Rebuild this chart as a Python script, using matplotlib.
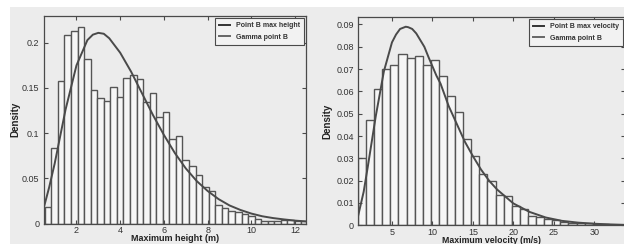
import numpy as np
import matplotlib
matplotlib.use("Agg")
import matplotlib.pyplot as plt
from matplotlib.lines import Line2D
from matplotlib.patches import Rectangle

plt.rcParams['font.family'] = ['Liberation Sans', 'DejaVu Sans']

#########################################################################
# Data
#########################################################################
# Max height histogram (bins of 0.3 m starting at 0.55)
height_bin_start = 0.55
height_bin_width = 0.3
height_density = [0.018, 0.084, 0.158, 0.209, 0.213, 0.218, 0.182, 0.148, 0.139, 0.136,
                  0.151, 0.140, 0.161, 0.164, 0.160, 0.134, 0.144, 0.118, 0.123, 0.093,
                  0.097, 0.070, 0.064, 0.054, 0.040, 0.036, 0.020, 0.017, 0.014, 0.013,
                  0.011, 0.008, 0.0045, 0.0025, 0.003, 0.0025, 0.004, 0.004, 0.003, 0.003]

# Gamma fit for max height
height_curve_x = [0.5, 0.75, 1.0, 1.5, 2.0, 2.5, 2.75, 3.0, 3.25, 3.5, 4.0, 4.5, 5.0, 5.5,
                  6.0, 6.5, 7.0, 7.5, 8.0, 8.5, 9.0, 9.5, 10.0, 10.5, 11.0, 11.5, 12.0, 12.5]
height_curve_y = [0.017, 0.040, 0.066, 0.126, 0.175, 0.203, 0.209, 0.211, 0.210, 0.205,
                  0.189, 0.168, 0.144, 0.120, 0.098, 0.078, 0.061, 0.047, 0.036, 0.027,
                  0.020, 0.015, 0.011, 0.008, 0.006, 0.0045, 0.0032, 0.0023]

# Max velocity histogram (bins of 1 m/s starting at 0.8)
vel_bin_start = 0.8
vel_bin_width = 1.0
vel_density = [0.030, 0.047, 0.061, 0.070, 0.072, 0.077, 0.075, 0.076, 0.072, 0.074,
               0.067, 0.058, 0.051, 0.0385, 0.031, 0.023, 0.020, 0.0136, 0.013, 0.0088,
               0.0072, 0.0042, 0.0036, 0.0028, 0.0024, 0.0016, 0.0012, 0.0010, 0.0009,
               0.0006, 0.0004, 0.0003, 0.0002]

# Gamma fit for max velocity
vel_curve_x = [0.8, 1.5, 2, 3, 4, 5, 5.5, 6, 6.7, 7, 7.5, 8, 8.5, 9, 9.5, 10.5, 11, 12, 13,
               14, 15, 16, 17, 18, 20, 22, 24, 26, 28, 30, 32, 33.8]
vel_curve_y = [0.004, 0.015, 0.026, 0.049, 0.069, 0.082, 0.0855, 0.088, 0.089, 0.0888,
               0.088, 0.086, 0.083, 0.080, 0.0755, 0.067, 0.0635, 0.0535, 0.0455, 0.0375,
               0.031, 0.025, 0.020, 0.016, 0.0098, 0.006, 0.0035, 0.002, 0.0012, 0.0007,
               0.0004, 0.0002]

bg = '#ececec'
dark = '#4a4a4a'

fig = plt.figure(figsize=(6.24, 2.44), dpi=100, facecolor=bg)
# white scan border at top / left
fig.patches.append(Rectangle((0, 1 - 7 / 244), 1, 7 / 244, transform=fig.transFigure,
                             facecolor='white', edgecolor='none', zorder=-1))
fig.patches.append(Rectangle((0, 0), 10 / 624, 1, transform=fig.transFigure,
                             facecolor='white', edgecolor='none', zorder=-1))


def style_axes(ax):
    ax.set_facecolor(bg)
    for s in ax.spines.values():
        s.set_color(dark)
        s.set_linewidth(0.9)
    ax.tick_params(direction='in', top=True, right=True, length=3, width=0.8,
                   color=dark, labelsize=6.5, labelcolor='#333333', pad=3)
    ax.tick_params(axis='x', pad=2)


def draw_panel(ax, start, width, dens, cx, cy, labels):
    edges = start + width * np.arange(len(dens))
    ax.bar(edges, dens, width=width, align='edge', facecolor='#f6f6f6',
           edgecolor='#555555', linewidth=1.0)
    ax.plot(cx, cy, color=dark, linewidth=1.4)
    handles = [Line2D([], [], color='#333333', linewidth=1.4),
               Line2D([], [], color='#666666', linewidth=1.4)]
    leg = ax.legend(handles, labels, loc='upper right', fontsize=5,
                    handlelength=1.6, handletextpad=0.8, borderpad=0.6,
                    labelspacing=0.7, fancybox=False, framealpha=1,
                    borderaxespad=0.3)
    leg.get_frame().set_edgecolor(dark)
    leg.get_frame().set_linewidth(0.8)
    leg.get_frame().set_facecolor('#f2f2f2')
    for t in leg.get_texts():
        t.set_fontweight('bold')
        t.set_color('#333333')


#########################################################################
# Max height
#########################################################################
ax1 = fig.add_axes([0.070, 0.084, 0.4204, 0.8517])
style_axes(ax1)
draw_panel(ax1, height_bin_start, height_bin_width, height_density,
           height_curve_x, height_curve_y, ['Point B max height', 'Gamma point B'])
ax1.set_xlim(0.5, 12.5)
ax1.set_ylim(0, 0.23)
ax1.set_xticks([2, 4, 6, 8, 10, 12])
ax1.set_yticks([0, 0.05, 0.1, 0.15, 0.2])
ax1.set_yticklabels(['0', '0.05', '0.1', '0.15', '0.2'])
ax1.set_ylabel('Density', fontsize=7, fontweight='bold', labelpad=1, color='#222222')
ax1.set_xlabel('Maximum height (m)', fontsize=6.5, fontweight='bold', color='#222222')
ax1.xaxis.set_label_coords(0.5, -0.05)

#########################################################################
# Max velocity
#########################################################################
ax2 = fig.add_axes([0.5737, 0.0766, 0.428, 0.855])
style_axes(ax2)
draw_panel(ax2, vel_bin_start, vel_bin_width, vel_density,
           vel_curve_x, vel_curve_y, ['Point B max velocity', 'Gamma point B'])
ax2.set_xlim(0.8, 33.8)
ax2.set_ylim(0, 0.0935)
ax2.set_xticks([5, 10, 15, 20, 25, 30])
ax2.set_yticks([0, 0.01, 0.02, 0.03, 0.04, 0.05, 0.06, 0.07, 0.08, 0.09])
ax2.set_yticklabels(['0', '0.01', '0.02', '0.03', '0.04', '0.05', '0.06', '0.07',
                     '0.08', '0.09'])
ax2.set_ylabel('Density', fontsize=7, fontweight='bold', labelpad=3, color='#222222')
ax2.set_xlabel('Maximum velocity (m/s)', fontsize=6.3, fontweight='bold', color='#222222')
ax2.xaxis.set_label_coords(0.5, -0.052)

fig.savefig('out.png', dpi=100, facecolor=fig.get_facecolor())
